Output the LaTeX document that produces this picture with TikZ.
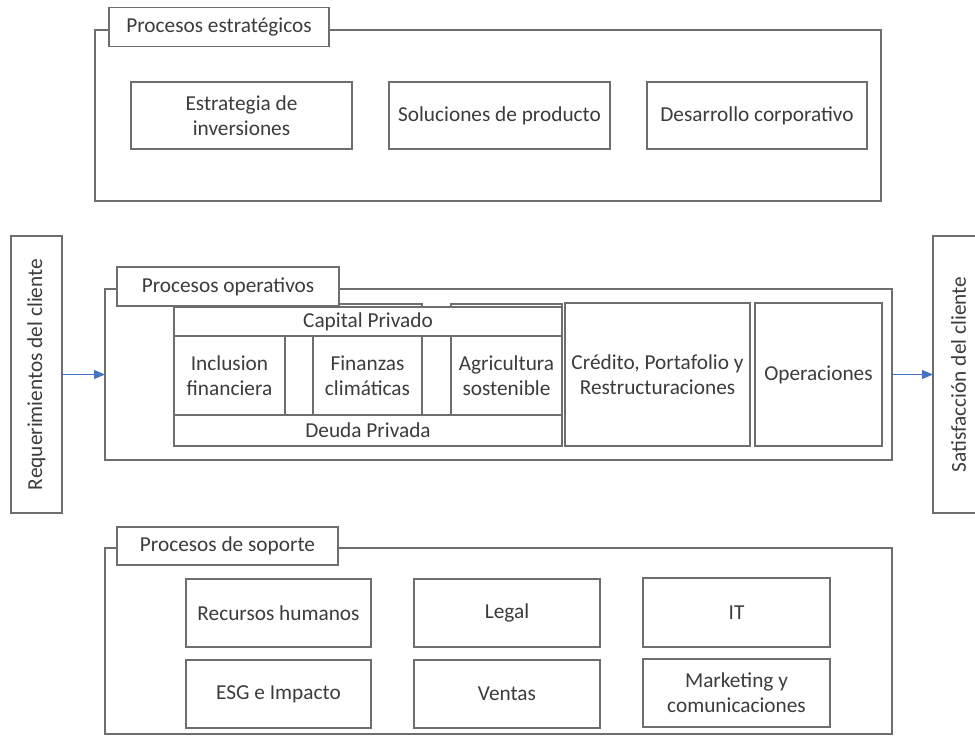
\documentclass[tikz,border=0pt]{standalone}
\usepackage{fontspec}
\setmainfont{Carlito}
\usetikzlibrary{arrows.meta}
\definecolor{linegray}{HTML}{6E6E6E}
\definecolor{txtgray}{HTML}{3C3C3C}
\definecolor{arrowblue}{HTML}{4472C4}
\begin{document}
\begin{tikzpicture}[x=1pt,y=-1pt,
  font=\fontsize{21.3}{25}\selectfont,
  box/.style={draw=linegray, line width=1.3pt, fill=white, text=txtgray,
    inner sep=0pt, outer sep=0pt, align=center},
  frame/.style={draw=linegray, line width=1.3pt, inner sep=0pt, outer sep=0pt},
  tag/.style={box, anchor=center},
  flow/.style={draw=arrowblue, line width=1pt,
    -{Triangle[length=11pt,width=9pt]}}]
\useasboundingbox (0,0) rectangle (975,736);

% Procesos estratégicos
\node[frame, minimum width=786, minimum height=171] (stf) at (488,115.5) {};
\node[box, minimum width=221, minimum height=67] (s1) at (241.5,115.5) {Estrategia de\\inversiones};
\node[box, minimum width=221, minimum height=67] (s2) at (499.5,115.5) {Soluciones de producto};
\node[box, minimum width=220, minimum height=67] (s3) at (757,115.5) {Desarrollo corporativo};
\node[tag, minimum width=220, minimum height=39] (stl) at (219,27) {Procesos estratégicos};

% Procesos operativos
\node[frame, minimum width=787, minimum height=171] (opf) at (498.5,374.5) {};
\node[box, minimum width=111, minimum height=142] (c1) at (229.5,375) {};
\node[box, minimum width=109, minimum height=142] (c2) at (367.5,375) {};
\node[box, minimum width=111, minimum height=142] (c3) at (506.5,375) {};
\node[box, minimum width=388, minimum height=29] (cap) at (368,321.5) {Capital Privado};
\node[box, minimum width=388, minimum height=31] (deu) at (368,430.5) {Deuda Privada};
\node[text=txtgray, align=center] (t1) at (229.5,375.5) {Inclusion\\financiera};
\node[text=txtgray, align=center] (t2) at (367.5,375.5) {Finanzas\\climáticas};
\node[text=txtgray, align=center] (t3) at (506.5,375.5) {Agricultura\\sostenible};
\node[box, minimum width=185, minimum height=143] (cred) at (657.5,374.5) {Crédito, Portafolio y\\Restructuraciones};
\node[box, minimum width=127, minimum height=143] (ope) at (818.5,374.5) {Operaciones};
\node[tag, minimum width=222, minimum height=39] (opl) at (228,286.5) {Procesos operativos};

% Procesos de soporte
\node[frame, minimum width=787, minimum height=186] (spf) at (498.5,641) {};
\node[box, minimum width=185, minimum height=68] (p1) at (278.5,613) {Recursos humanos};
\node[box, minimum width=186, minimum height=68] (p2) at (507,613) {Legal};
\node[box, minimum width=187, minimum height=69] (p3) at (736.5,612.5) {IT};
\node[box, minimum width=185, minimum height=68] (p4) at (278.5,694) {ESG e Impacto};
\node[box, minimum width=186, minimum height=68] (p5) at (507,694) {Ventas};
\node[box, minimum width=187, minimum height=68] (p6) at (736.5,693) {Marketing y\\comunicaciones};
\node[tag, minimum width=221, minimum height=38] (spl) at (227.5,546) {Procesos de soporte};

% Cliente
\node[box, minimum width=51, minimum height=277] (req) at (36.5,374.5)
  {\rotatebox{90}{Requerimientos del cliente}};
\node[box, minimum width=51, minimum height=277] (sat) at (958.5,374.5)
  {\rotatebox{90}{Satisfacción del cliente}};

\draw[flow] (req.east) -- (opf.west);
\draw[flow] (opf.east) -- (sat.west);
\end{tikzpicture}
\end{document}
